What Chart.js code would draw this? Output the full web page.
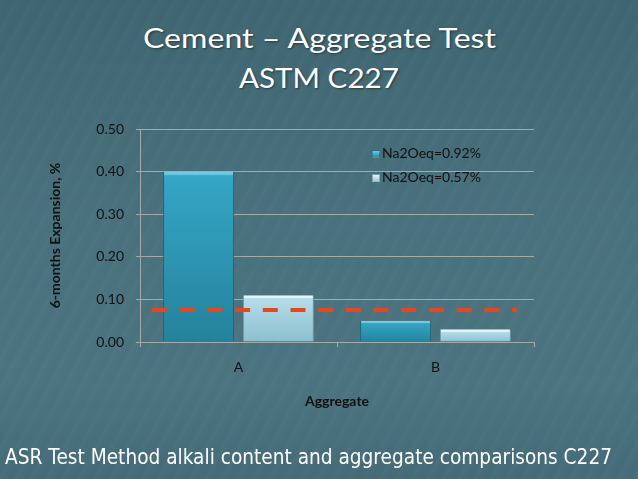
<!DOCTYPE html>
<html>
<head>
<meta charset="utf-8">
<script src="https://cdn.jsdelivr.net/npm/chart.js@4.4.0/dist/chart.umd.min.js"></script>
<style>
  html, body { margin: 0; padding: 0; }
  body { width: 638px; height: 479px; overflow: hidden; }
  #stage {
    position: relative; width: 638px; height: 479px; overflow: hidden;
    background:
      repeating-linear-gradient(118deg, rgba(255,255,255,0.018) 0px, rgba(255,255,255,0.0) 4px, rgba(0,0,0,0.018) 9px, rgba(255,255,255,0.0) 14px),
      linear-gradient(180deg, #3f6671 0%, #4a727e 45%, #4c7581 80%, #456c78 100%);
  }
  #chartBox { position: absolute; left: 0; top: 0; width: 638px; height: 479px; }
  .title {
    position: absolute; left: 0; width: 638px; text-align: center; color: #ffffff;
    font-family: "Lato", "Open Sans", sans-serif; font-size: 27px; line-height: 1;
    text-shadow: 1px 1px 2px rgba(0,0,0,0.45); white-space: nowrap;
  }
  .title span, .foot span { display: inline-block; transform-origin: 50% 50%; }
  .foot {
    position: absolute; left: 5px; top: 447px; color: #ffffff; white-space: nowrap;
    font-family: "DejaVu Sans", sans-serif; font-size: 20.5px; line-height: 1;
  }
  .foot span { transform-origin: 0 50%; }
  .leg { position: absolute; left: 372px; font-family: "Lato", sans-serif; font-size: 14px; line-height: 16px; color: #111; white-space: nowrap; }
  .leg i { display: inline-block; width: 8px; height: 8px; margin-right: 2px; vertical-align: 0px; border: 1px solid rgba(0,0,0,0.25); box-sizing: border-box; }
</style>
</head>
<body>
<div id="stage">
  <div class="title" style="top:24px;"><span data-w="353">Cement – Aggregate Test</span></div>
  <div class="title" style="top:64px;"><span data-w="160">ASTM C227</span></div>
  <div id="chartBox"><canvas id="c" width="638" height="479"></canvas></div>
  <div class="leg" style="top:145px;"><i style="background:linear-gradient(#6cc9e2,#2a8eab);"></i>Na2Oeq=0.92%</div>
  <div class="leg" style="top:169px;"><i style="background:linear-gradient(#e3f4f9,#9ccbdb);"></i>Na2Oeq=0.57%</div>
  <div class="foot"><span data-w="607">ASR Test Method alkali content and aggregate comparisons C227</span></div>
</div>
<script>
const categories = ["A", "B"];
const seriesNames = ["Na2Oeq=0.92%", "Na2Oeq=0.57%"];
const highAlkali = [0.40, 0.05];
const lowAlkali = [0.11, 0.03];
const yTicks = [0.00, 0.10, 0.20, 0.30, 0.40, 0.50];
const limitLine = 0.075;

function fitText() {
  document.querySelectorAll('span[data-w]').forEach(s => {
    s.style.transform = 'none';
    const w = s.getBoundingClientRect().width;
    const target = parseFloat(s.dataset.w);
    if (w > 0) s.style.transform = 'scaleX(' + (target / w) + ')';
  });
}
fitText();
if (document.fonts && document.fonts.ready) document.fonts.ready.then(fitText);

function barGradient(ctx, stops) {
  const chart = ctx.chart;
  const area = chart.chartArea;
  if (!area || ctx.parsed === undefined || ctx.parsed === null) return stops[1];
  const y = chart.scales.y;
  const top = y.getPixelForValue(ctx.parsed.y);
  const base = y.getPixelForValue(0);
  const h = Math.max(base - top, 1);
  const g = chart.ctx.createLinearGradient(0, top, 0, base);
  const hl = Math.min(2.5 / h, 0.3);
  g.addColorStop(0, stops[0]);
  g.addColorStop(hl, stops[0]);
  g.addColorStop(Math.min(hl + 0.01, 1), stops[1]);
  g.addColorStop(1, stops[2]);
  return g;
}

const limitPlugin = {
  id: 'limitLine',
  afterDatasetsDraw(chart) {
    const { ctx, chartArea, scales } = chart;
    const yPix = scales.y.getPixelForValue(limitLine);
    ctx.save();
    ctx.strokeStyle = '#e8461c';
    ctx.lineWidth = 4;
    ctx.setLineDash([15, 12.7]);
    ctx.beginPath();
    ctx.moveTo(chartArea.left + 12, yPix);
    ctx.lineTo(chartArea.right - 17, yPix);
    ctx.stroke();
    ctx.restore();
  }
};

new Chart(document.getElementById('c'), {
  type: 'bar',
  data: {
    labels: categories,
    datasets: [
      {
        label: seriesNames[0], data: highAlkali,
        backgroundColor: (c) => barGradient(c, ['#6fcbe3', '#34a6c6', '#25829c']),
        borderColor: '#1d6377', borderWidth: { top: 0, left: 1, right: 1, bottom: 0 },
        categoryPercentage: 0.81, barPercentage: 0.89
      },
      {
        label: seriesNames[1], data: lowAlkali,
        backgroundColor: (c) => barGradient(c, ['#e2f4f9', '#b6dde9', '#8cbfd0']),
        borderColor: '#6a9fb0', borderWidth: { top: 0, left: 1, right: 1, bottom: 0 },
        categoryPercentage: 0.81, barPercentage: 0.89
      }
    ]
  },
  options: {
    responsive: false,
    animation: false,
    devicePixelRatio: 1,
    layout: { padding: { left: 44, right: 104, top: 129, bottom: 69 } },
    plugins: { legend: { display: false }, tooltip: { enabled: false } },
    scales: {
      x: {
        afterFit: (s) => { s.height = 68; },
        grid: { display: true, drawOnChartArea: false, drawTicks: true, tickLength: 5, color: '#a3aaa8', offset: true },
        border: { display: true, color: '#a3aaa8', width: 1 },
        ticks: { color: '#111', font: { family: 'Lato', size: 14 }, padding: 12 },
        title: { display: true, text: 'Aggregate', color: '#111', font: { family: 'Lato', size: 14, weight: 'bold' }, padding: { top: 0, bottom: 0 } }
      },
      y: {
        min: 0, max: 0.5,
        afterFit: (s) => { s.width = 96; },
        afterBuildTicks: (s) => { s.ticks = yTicks.map(v => ({ value: v })); },
        grid: { color: '#a3aaa8', lineWidth: 1, drawTicks: true, tickLength: 4 },
        border: { display: true, color: '#a3aaa8', width: 1 },
        ticks: { color: '#111', font: { family: 'Lato', size: 14 }, padding: 12, callback: (v) => Number(v).toFixed(2) },
        title: { display: true, text: '6-months Expansion, %', color: '#111', font: { family: 'Lato', size: 14, weight: 'bold' }, padding: { top: 3, bottom: 0 } }
      }
    }
  },
  plugins: [limitPlugin]
});
</script>
</body>
</html>
